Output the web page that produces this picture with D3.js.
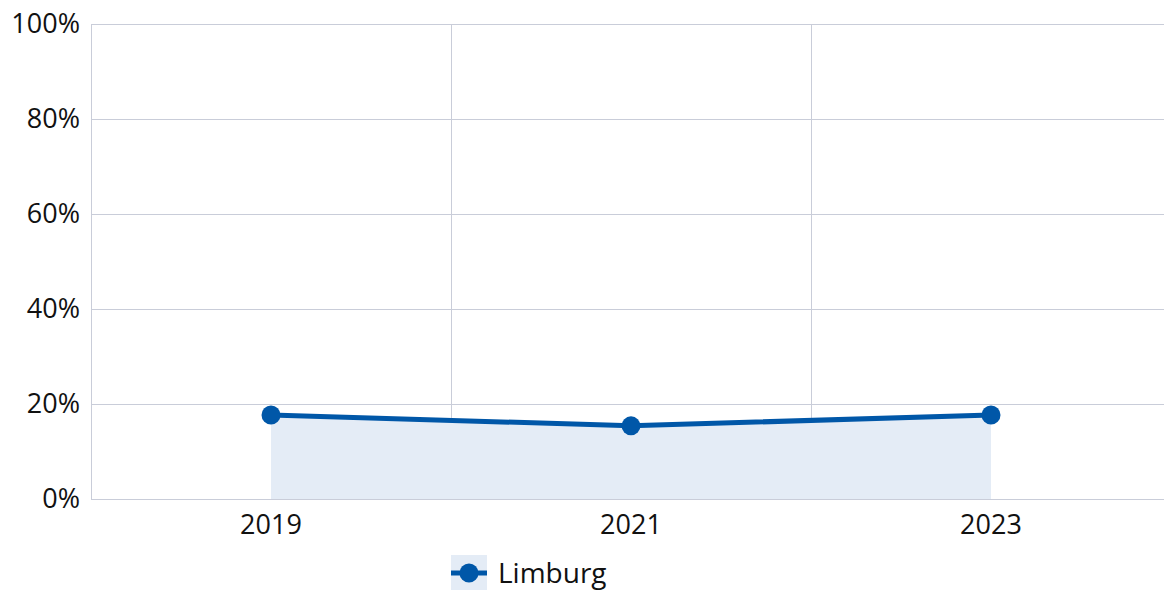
<!DOCTYPE html>
<html>
<head>
<meta charset="utf-8">
<script src="https://cdn.jsdelivr.net/npm/d3@7"></script>
<style>
  body { margin: 0; background: #fff; }
  svg { font-family: "Open Sans", "Noto Sans", sans-serif; }
</style>
</head>
<body>
<svg id="chart"></svg>
<script>
// data
var years = ["2019", "2021", "2023"];
var limburg = [17.7, 15.4, 17.7];
var yTicks = [0, 20, 40, 60, 80, 100];
var seriesName = "Limburg";

var width = 1164, height = 590;
var margin = {top: 24, right: -7, bottom: 91, left: 91};
var blue = "#0057a8", fill = "#e4ecf6", grid = "#c9cdd9";

var svg = d3.select("#chart").attr("width", width).attr("height", height);

var x = d3.scaleBand().domain(years)
    .range([margin.left, width - margin.right]);
var y = d3.scaleLinear().domain([0, 100])
    .range([height - margin.bottom, margin.top]);

// horizontal grid
svg.append("g").selectAll("line").data(yTicks).join("line")
    .attr("x1", margin.left).attr("x2", width)
    .attr("y1", function(d) { return y(d) + 0.5; })
    .attr("y2", function(d) { return y(d) + 0.5; })
    .attr("stroke", grid).attr("stroke-width", 1);

// vertical band boundaries
svg.append("g").selectAll("line").data(years.slice(1)).join("line")
    .attr("x1", function(d) { return x(d) + 0.5; })
    .attr("x2", function(d) { return x(d) + 0.5; })
    .attr("y1", y(100)).attr("y2", y(0))
    .attr("stroke", grid).attr("stroke-width", 1);

// left axis line
svg.append("line")
    .attr("x1", margin.left + 0.5).attr("x2", margin.left + 0.5)
    .attr("y1", y(100)).attr("y2", y(0))
    .attr("stroke", grid);

// y labels
svg.append("g").selectAll("text").data(yTicks).join("text")
    .attr("x", 80).attr("y", function(d) { return y(d); })
    .attr("dy", "0.35em")
    .attr("text-anchor", "end")
    .attr("font-size", 27).attr("fill", "#111")
    .text(function(d) { return d + "%"; });

// x labels
svg.append("g").selectAll("text").data(years).join("text")
    .attr("x", function(d) { return x(d) + x.bandwidth() / 2; })
    .attr("y", y(0) + 35)
    .attr("text-anchor", "middle")
    .attr("font-size", 27).attr("fill", "#111")
    .text(function(d) { return d; });

var cx = function(d, i) { return x(years[i]) + x.bandwidth() / 2; };

// area
var area = d3.area()
    .x(cx)
    .y0(y(0))
    .y1(function(d) { return y(d); });
svg.append("path").datum(limburg)
    .attr("d", area).attr("fill", fill);

// line
var line = d3.line().x(cx).y(function(d) { return y(d); });
svg.append("path").datum(limburg)
    .attr("d", line).attr("fill", "none")
    .attr("stroke", blue).attr("stroke-width", 5)
    .attr("stroke-linejoin", "round");

svg.append("g").selectAll("circle").data(limburg).join("circle")
    .attr("cx", cx).attr("cy", function(d) { return y(d); })
    .attr("r", 9.5).attr("fill", blue);

// legend
var lg = svg.append("g").attr("transform", "translate(451,555)");
lg.append("rect").attr("width", 36).attr("height", 35).attr("fill", fill);
lg.append("line").attr("x1", 0).attr("x2", 36).attr("y1", 18).attr("y2", 18)
    .attr("stroke", blue).attr("stroke-width", 5);
lg.append("circle").attr("cx", 18).attr("cy", 18).attr("r", 9.5).attr("fill", blue);
lg.append("text").attr("x", 47).attr("y", 18).attr("dy", "0.35em")
    .attr("font-size", 28).attr("fill", "#111").text(seriesName);
</script>
</body>
</html>
